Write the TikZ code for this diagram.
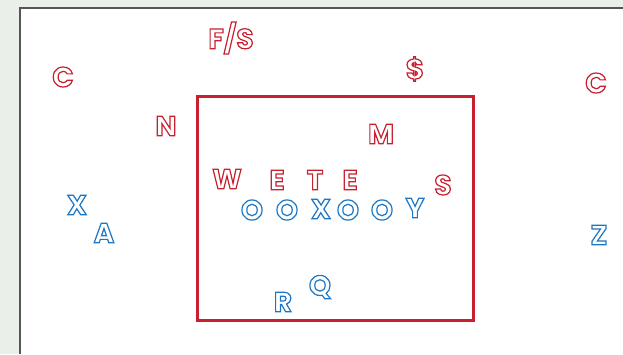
\documentclass[tikz,border=0pt]{standalone}
\usepackage{fontspec}
\newfontfamily\markfont{Poppins}
\usetikzlibrary{positioning}

\definecolor{pagebg}{RGB}{234,240,233}
\definecolor{markred}{RGB}{200,32,48}
\definecolor{markblue}{RGB}{28,118,196}
\definecolor{framegray}{RGB}{85,85,85}

% stroke-only letters
\newcommand{\hollow}[1]{\special{pdf:literal direct 1 Tr 1.2 w}#1\special{pdf:literal direct 0 Tr}}

\tikzset{
  letter/.style={inner sep=0pt, font=\markfont\bfseries\fontsize{28}{30}\selectfont},
  redletter/.style={letter, text=markred},
  blueletter/.style={letter, text=markblue}
}

\begin{document}
\begin{tikzpicture}[x=1pt, y=-1pt]
\def\W{623}
\def\H{354}

\useasboundingbox (0,0) rectangle (\W,\H);
\fill[pagebg] (0,0) rectangle (\W,\H);
\fill[white] (20,8) rectangle (\W,\H);
\draw[framegray, line width=1.5pt] (20,\H) -- (20,8) -- (\W,8);

% the box
\draw[markred, line width=3pt] (197,96) rectangle (473,320);

% red letters
\node[redletter] (fs) at (231,38) {\hollow{F/S}};
\node[redletter] (cl) at (63,77) {\hollow{C}};
\node[redletter] (dol) at (415,69) {\hollow{\$}};
\node[redletter] (cr) at (596,83) {\hollow{C}};
\node[redletter] (n) at (166,126) {\hollow{N}};
\node[redletter] (m) at (381,134) {\hollow{M}};
\node[redletter] (w) at (227,179) {\hollow{W}};
\node[redletter] (e1) at (277,180) {\hollow{E}};
\node[redletter] (t) at (315,180) {\hollow{T}};
\node[redletter] (e2) at (350,180) {\hollow{E}};
\node[redletter] (s) at (443,185) {\hollow{S}};

% blue letters
\node[blueletter] (o1) at (252,210) {\hollow{O}};
\node[blueletter] (o2) at (287,210) {\hollow{O}};
\node[blueletter] (x) at (321,209) {\hollow{X}};
\node[blueletter] (o3) at (348,210) {\hollow{O}};
\node[blueletter] (o4) at (382,210) {\hollow{O}};
\node[blueletter] (y) at (415,208) {\hollow{Y}};
\node[blueletter] (xl) at (77,205) {\hollow{X}};
\node[blueletter] (a) at (104,233) {\hollow{A}};
\node[blueletter] (z) at (599,235) {\hollow{Z}};
\node[blueletter] (r) at (283,302) {\hollow{R}};
\node[blueletter] (q) at (320,287) {\hollow{Q}};
\end{tikzpicture}
\end{document}
